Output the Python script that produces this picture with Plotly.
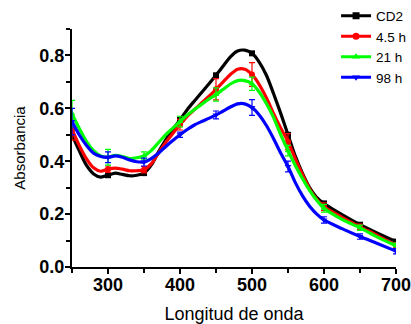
import plotly.graph_objects as go

wl = [250, 260, 270, 280, 290, 300, 310, 320, 330, 340, 350, 360, 370, 380, 390,
      400, 410, 420, 430, 440, 450, 460, 470, 480, 490, 500, 510, 520, 530, 540,
      550, 560, 570, 580, 590, 600, 625, 650, 675, 700]

cd2 = [0.50, 0.44, 0.385, 0.352, 0.340, 0.347, 0.355, 0.350, 0.345, 0.347,
       0.355, 0.385, 0.435, 0.48, 0.52, 0.557, 0.595, 0.628, 0.66, 0.692,
       0.725, 0.76, 0.795, 0.817, 0.82, 0.808, 0.775, 0.725, 0.655, 0.58,
       0.50, 0.42, 0.355, 0.30, 0.262, 0.240, 0.198, 0.160, 0.127, 0.096]

h45 = [0.52, 0.46, 0.41, 0.375, 0.362, 0.37, 0.374, 0.37, 0.364, 0.364,
       0.368, 0.39, 0.43, 0.47, 0.505, 0.538, 0.57, 0.595, 0.62, 0.645,
       0.672, 0.70, 0.728, 0.748, 0.748, 0.728, 0.69, 0.64, 0.58, 0.525,
       0.474, 0.41, 0.35, 0.295, 0.255, 0.228, 0.188, 0.152, 0.118, 0.082]

h21 = [0.58, 0.525, 0.475, 0.44, 0.42, 0.415, 0.422, 0.418, 0.41, 0.413,
       0.42, 0.44, 0.47, 0.50, 0.525, 0.55, 0.575, 0.595, 0.615, 0.635,
       0.652, 0.672, 0.692, 0.705, 0.705, 0.693, 0.662, 0.618, 0.565, 0.50,
       0.44, 0.385, 0.335, 0.29, 0.252, 0.222, 0.18, 0.148, 0.112, 0.08]

h98 = [0.55, 0.50, 0.46, 0.43, 0.418, 0.415, 0.42, 0.415, 0.405, 0.398,
       0.397, 0.41, 0.43, 0.455, 0.478, 0.50, 0.52, 0.537, 0.55, 0.562,
       0.575, 0.59, 0.605, 0.617, 0.617, 0.603, 0.575, 0.535, 0.485, 0.43,
       0.38, 0.32, 0.27, 0.23, 0.2, 0.178, 0.145, 0.115, 0.088, 0.06]

marker_wl = [250, 300, 350, 400, 450, 500, 550, 600, 650, 700]
err_cd2 = [0.005, 0.005, 0.005, 0.008, 0.005, 0.005, 0.008, 0.008, 0.006, 0.006]
err_h45 = [0.04, 0.012, 0.012, 0.02, 0.04, 0.045, 0.03, 0.015, 0.01, 0.01]
err_h21 = [0.05, 0.03, 0.015, 0.02, 0.025, 0.025, 0.02, 0.015, 0.01, 0.01]
err_h98 = [0.05, 0.02, 0.015, 0.01, 0.015, 0.03, 0.02, 0.012, 0.01, 0.01]

names = ["CD2", "4.5 h", "21 h", "98 h"]
colors = ["#000000", "#ff0000", "#00ff00", "#0000ff"]
symbols = ["square", "circle", "triangle-up", "triangle-down"]
series = [cd2, h45, h21, h98]
errs = [err_cd2, err_h45, err_h21, err_h98]

fig = go.Figure()
for name, col, sym, ys, er in zip(names, colors, symbols, series, errs):
    fig.add_trace(go.Scatter(x=wl, y=ys, mode="lines", showlegend=False,
                             line=dict(color=col, width=3.2, shape="spline", smoothing=0.8)))
    my = [ys[wl.index(w)] for w in marker_wl]
    fig.add_trace(go.Scatter(x=marker_wl, y=my, mode="markers", showlegend=False,
                             marker=dict(color=col, symbol=sym, size=6),
                             error_y=dict(type="data", array=er, color=col,
                                          thickness=1.2, width=3)))
for name, col, sym in zip(names, colors, symbols):
    fig.add_trace(go.Scatter(x=[None], y=[None], mode="lines+markers", name=name,
                             line=dict(color=col, width=3),
                             marker=dict(color=col, symbol=sym, size=7)))

axis_common = dict(showline=True, linecolor="black", linewidth=2, ticks="outside",
                   ticklen=5, tickwidth=2, tickcolor="black", showgrid=False,
                   zeroline=False, automargin=False, ticklabeloverflow="allow",
                   tickfont=dict(family="Liberation Sans", size=18, color="black", weight="bold"))

fig.update_layout(
    width=411, height=324,
    margin=dict(l=72, r=15, t=29, b=57, autoexpand=False),
    plot_bgcolor="white", paper_bgcolor="white",
    font=dict(family="Liberation Sans", color="black"),
    xaxis=dict(range=[250, 700], dtick=100, tick0=300, ticklabelstandoff=-5,
               minor=dict(dtick=50, ticks="outside", ticklen=4, tickwidth=2, tickcolor="black"),
               title=dict(text="Longitud de onda", font=dict(size=18), standoff=14),
               **axis_common),
    yaxis=dict(range=[0, 0.9], dtick=0.2, tickformat=".1f", ticklabelstandoff=-3,
               minor=dict(dtick=0.1, ticks="outside", ticklen=4, tickwidth=2, tickcolor="black"),
               title=dict(text="Absorbancia", font=dict(size=15), standoff=10),
               **axis_common),
    legend=dict(x=0.815, y=1.12, xanchor="left", yanchor="top",
                font=dict(size=13.5, color="black"), bgcolor="rgba(0,0,0,0)",
                tracegroupgap=0, itemwidth=30),
)

fig.write_html("out.html", post_script="document.body.style.margin='0';",
               config={"displayModeBar": False})
